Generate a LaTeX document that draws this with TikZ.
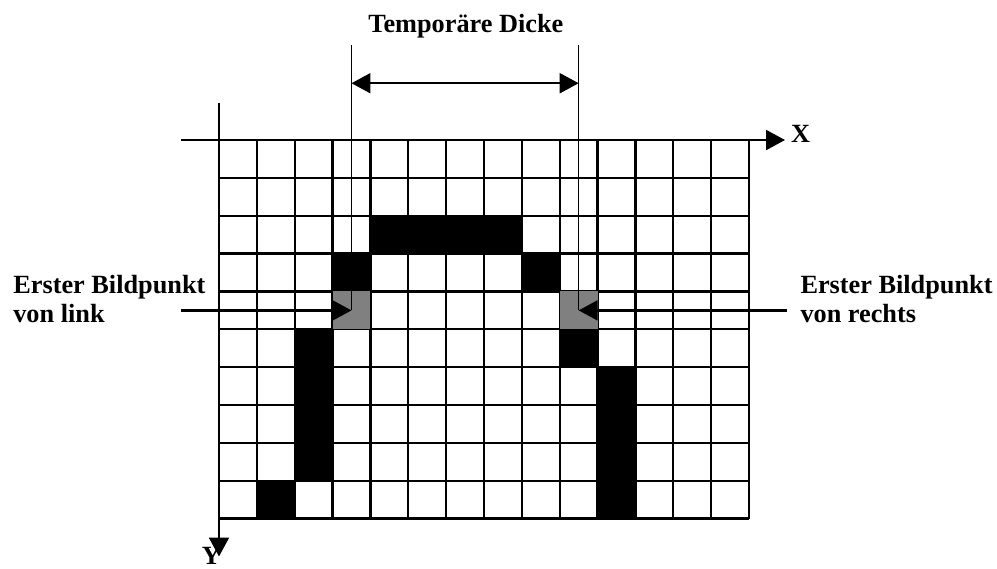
\documentclass[tikz,border=0pt]{standalone}
\usepackage{fontspec}
\setmainfont{Liberation Serif}
\usetikzlibrary{arrows.meta}
\begin{document}
\begin{tikzpicture}[x=0.8cm,y=-0.8cm,
  arr/.style={-{Triangle[length=4mm,width=4.2mm]}},
  lbl/.style={font=\bfseries\fontsize{15.8}{18}\selectfont,inner sep=0pt,align=left}]
  \useasboundingbox (-5.784,-3.698) rectangle (20.549,11.305);
  % grid
  \foreach \i in {1,...,14} \draw[line width=1.4pt] (\i,0) -- (\i,10);
  \foreach \j in {1,...,10} \draw[line width=1.4pt] (0,\j) -- (14,\j);
  \foreach \c/\r in {4/2,5/2,6/2,7/2,3/3,8/3,2/5,2/6,2/7,2/8,1/9,9/5,10/6,10/7,10/8,10/9}
    \fill (\c,\r) rectangle ++(1,1);
  \fill[black!50] (3,4) rectangle ++(1,1);
  \fill[black!50] (9,4) rectangle ++(1,1);
  % axes
  \coordinate (xa) at (-1,0);
  \coordinate (xb) at (14.95,0);
  \coordinate (ya) at (0,-0.98);
  \coordinate (yb) at (0,11);
  \draw[line width=1.4pt,arr] (xa) -- (xb);
  \draw[line width=1.4pt,arr] (ya) -- (yb);
  \node[lbl,anchor=west] (xlbl) at (15.1,-0.15) {X};
  \node[lbl,anchor=north] (ylbl) at (-0.2,10.74) {Y};
  % thickness
  \coordinate (lpix) at (3.5,4.5);
  \coordinate (rpix) at (9.5,4.5);
  \coordinate (ltop) at (3.5,-2.5);
  \coordinate (rtop) at (9.5,-2.5);
  \coordinate (ld) at (3.5,-1.5);
  \coordinate (rd) at (9.5,-1.5);
  \draw[line width=0.8pt] (ltop) -- (lpix);
  \draw[line width=0.8pt] (rtop) -- (rpix);
  \draw[line width=1.4pt,{Triangle[length=4mm,width=4.2mm]}-{Triangle[length=4mm,width=4.2mm]}] (ld) -- (rd);
  \node[lbl,anchor=base] (title) at (6.52,-2.83) {Temporäre Dicke};
  % labels
  \coordinate (la) at (-1,4.5);
  \coordinate (ra) at (15,4.5);
  \node[lbl,anchor=west] (ltxt) at (-5.44,4.2) {Erster Bildpunkt\\von link};
  \node[lbl,anchor=west] (rtxt) at (15.35,4.2) {Erster Bildpunkt\\von rechts};
  \draw[line width=1.4pt,arr] (la) -- (lpix);
  \draw[line width=1.4pt,arr] (ra) -- (rpix);
\end{tikzpicture}
\end{document}
